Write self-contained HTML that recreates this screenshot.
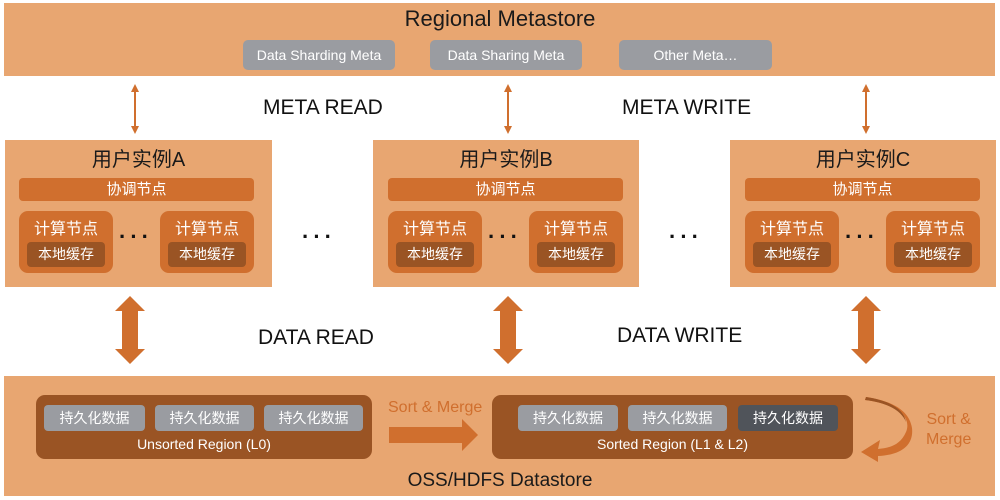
<!DOCTYPE html>
<html><head><meta charset="utf-8"><style>
body{margin:0;width:1000px;height:500px;background:#fff;position:relative;overflow:hidden;font-family:"Liberation Sans","Noto Sans CJK SC",sans-serif}
div{position:absolute;box-sizing:border-box}
.band{background:#e8a671}
.pill{background:#9a9ca1;color:#fff;border-radius:5px;font-size:14px;text-align:center;line-height:30px}
.inst{background:#e8a671}
.t{color:#1a1a1a;text-align:center}
.coord{background:#d06f2e;color:#fff;border-radius:4px;font-size:15px;text-align:center;line-height:23px}
.comp{background:#d06f2e;border-radius:9px;color:#fff;font-size:16px;text-align:center}
.cache{background:#9a5424;border-radius:4px;color:#fff;font-size:14px;line-height:25px;text-align:center}
.lbl{font-size:21px;color:#111}
.dots{font-size:22px;color:#111;letter-spacing:4px;font-weight:bold}
.reg{background:#9a5424;border-radius:9px;color:#fff;font-size:14px;text-align:center}
.dp{background:#9a9ca1;border-radius:4px;color:#fff;font-size:14px;line-height:26px;text-align:center}
</style></head><body>
<div class="band" style="left:4px;top:3px;width:991px;height:73px"></div>
<div class="t" style="left:0;top:6px;width:1000px;font-size:22px">Regional Metastore</div>
<div class="pill" style="left:243px;top:40px;width:152px;height:30px">Data Sharding Meta</div>
<div class="pill" style="left:430px;top:40px;width:152px;height:30px">Data Sharing Meta</div>
<div class="pill" style="left:619px;top:40px;width:153px;height:30px">Other Meta…</div>

<svg style="position:absolute;left:0;top:0" width="1000" height="500">
<g fill="#d06f2e" stroke="none">
<rect x="134" y="88" width="2" height="42"/><path d="M135,84 L139,92 L131,92Z M135,134 L139,126 L131,126Z"/>
<rect x="507" y="88" width="2" height="42"/><path d="M508,84 L512,92 L504,92Z M508,134 L512,126 L504,126Z"/>
<rect x="865" y="88" width="2" height="42"/><path d="M866,84 L870,92 L862,92Z M866,134 L870,126 L862,126Z"/>
</g>
<g fill="#d06f2e">
<path d="M130,296 L145,311 L138,311 L138,349 L145,349 L130,364 L115,349 L122,349 L122,311 L115,311Z"/>
<path d="M508,296 L523,311 L516,311 L516,349 L523,349 L508,364 L493,349 L500,349 L500,311 L493,311Z"/>
<path d="M866,296 L881,311 L874,311 L874,349 L881,349 L866,364 L851,349 L858,349 L858,311 L851,311Z"/>
</g>
</svg>

<div class="lbl" style="left:263px;top:96px">META READ</div>
<div class="lbl" style="left:622px;top:96px">META WRITE</div>
<div class="lbl" style="left:258px;top:326px">DATA READ</div>
<div class="lbl" style="left:617px;top:324px">DATA WRITE</div>
<div class="dots" style="left:302px;top:224px">···</div>
<div class="dots" style="left:669px;top:224px">···</div>

<div class="inst" style="left:5px;top:140px;width:267px;height:147px"></div>
<div class="t" style="left:5px;top:143px;width:267px;font-size:20px">用户实例A</div>
<div class="coord" style="left:19px;top:178px;width:235px;height:23px">协调节点</div>
<div class="comp" style="left:19px;top:211px;width:94px;height:62px;padding-top:4px">计算节点</div>
<div class="cache" style="left:27px;top:242px;width:78px;height:25px">本地缓存</div>
<div class="comp" style="left:160px;top:211px;width:94px;height:62px;padding-top:4px">计算节点</div>
<div class="cache" style="left:168px;top:242px;width:78px;height:25px">本地缓存</div>
<div class="dots" style="left:119px;top:224px">···</div>

<div class="inst" style="left:373px;top:140px;width:266px;height:147px"></div>
<div class="t" style="left:373px;top:143px;width:266px;font-size:20px">用户实例B</div>
<div class="coord" style="left:388px;top:178px;width:235px;height:23px">协调节点</div>
<div class="comp" style="left:388px;top:211px;width:94px;height:62px;padding-top:4px">计算节点</div>
<div class="cache" style="left:396px;top:242px;width:78px;height:25px">本地缓存</div>
<div class="comp" style="left:529px;top:211px;width:94px;height:62px;padding-top:4px">计算节点</div>
<div class="cache" style="left:537px;top:242px;width:78px;height:25px">本地缓存</div>
<div class="dots" style="left:488px;top:224px">···</div>

<div class="inst" style="left:730px;top:140px;width:266px;height:147px"></div>
<div class="t" style="left:730px;top:143px;width:266px;font-size:20px">用户实例C</div>
<div class="coord" style="left:745px;top:178px;width:235px;height:23px">协调节点</div>
<div class="comp" style="left:745px;top:211px;width:94px;height:62px;padding-top:4px">计算节点</div>
<div class="cache" style="left:753px;top:242px;width:78px;height:25px">本地缓存</div>
<div class="comp" style="left:886px;top:211px;width:94px;height:62px;padding-top:4px">计算节点</div>
<div class="cache" style="left:894px;top:242px;width:78px;height:25px">本地缓存</div>
<div class="dots" style="left:845px;top:224px">···</div>

<div class="band" style="left:4px;top:376px;width:991px;height:120px"></div>
<div class="reg" style="left:36px;top:395px;width:336px;height:64px;padding-top:41px">Unsorted Region (L0)</div>
<div class="dp" style="left:44px;top:405px;width:101px;height:26px">持久化数据</div>
<div class="dp" style="left:155px;top:405px;width:99px;height:26px">持久化数据</div>
<div class="dp" style="left:264px;top:405px;width:99px;height:26px">持久化数据</div>
<div class="reg" style="left:492px;top:395px;width:361px;height:64px;padding-top:41px">Sorted Region (L1 &amp; L2)</div>
<div class="dp" style="left:518px;top:405px;width:100px;height:26px">持久化数据</div>
<div class="dp" style="left:628px;top:405px;width:99px;height:26px">持久化数据</div>
<div class="dp" style="left:738px;top:405px;width:100px;height:26px;background:#50545a">持久化数据</div>
<div style="left:388px;top:399px;font-size:16px;color:#d06f2e">Sort &amp; Merge</div>
<div style="left:926px;top:410px;font-size:16px;color:#d06f2e;text-align:center;line-height:20px">Sort &amp;<br>Merge</div>
<svg style="position:absolute;left:0;top:0" width="1000" height="500">
<path d="M389,427 L462,427 L462,419 L478,435 L462,451 L462,443 L389,443Z" fill="#d06f2e"/>
<path d="M865,400 C898,404 912,418 906,432 C900,446 888,448 878,449 L880,440 L861,452 L878,462 L878,456 C900,455 914,446 912,428 C909,410 892,401 866,397Z" fill="#d06f2e"/>
<path d="M865,400 C890,403 902,412 906,422 C904,410 892,401 866,397Z" fill="#9a5424"/>
</svg>
<div class="t" style="left:0;top:470px;width:1000px;font-size:19px">OSS/HDFS Datastore</div>
</body></html>
